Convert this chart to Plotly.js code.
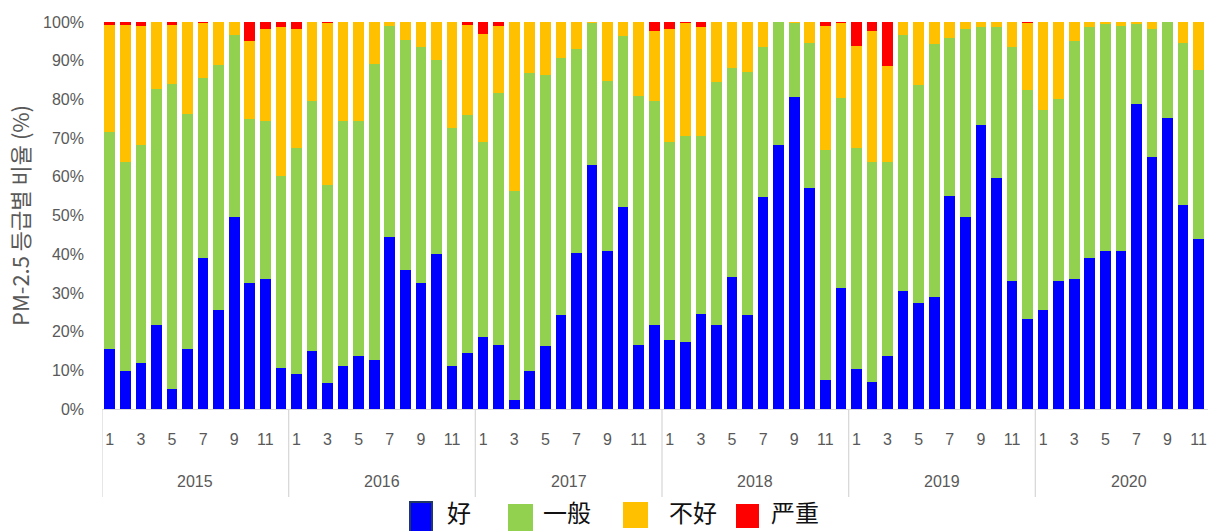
<!DOCTYPE html>
<html>
<head>
<meta charset="utf-8">
<script src="https://cdn.plot.ly/plotly-3.0.1.min.js"></script>
<style>
html,body{margin:0;padding:0;overflow:hidden;background:#fff;width:1208px;height:531px}
#chart{width:1230px;height:531px}
</style>
</head>
<body>
<div id="chart"></div>
<script>
// ---- data ----
const years = [2015, 2016, 2017, 2018, 2019, 2020];
const months = [1, 2, 3, 4, 5, 6, 7, 8, 9, 10, 11, 12];
const seriesNames = ['好', '一般', '不好', '严重'];
const seriesColors = ['#0000FF', '#92D050', '#FFC000', '#FF0000'];
const yTitle = 'PM-2.5 등급별 비율 (%)';

const good = [
  15.5, 9.9, 11.9, 21.8, 5.2, 15.5, 38.9, 25.7, 49.6, 32.5, 33.7, 10.7,
  9.1, 15.1, 6.7, 11.1, 13.8, 12.7, 44.4, 36.0, 32.5, 40.0, 11.1, 14.6,
  18.7, 16.6, 2.3, 9.8, 16.2, 24.2, 40.4, 63.0, 40.8, 52.3, 16.6, 21.8,
  17.9, 17.4, 24.5, 21.8, 34.0, 24.2, 54.7, 68.1, 80.5, 57.1, 7.5, 31.3,
  10.4, 7.1, 13.8, 30.5, 27.3, 28.9, 55.1, 49.6, 73.3, 59.8, 33.2, 23.3,
  25.7, 33.2, 33.7, 38.9, 40.8, 40.8, 78.8, 65.0, 75.3, 52.7, 44.0, 31.8
];
const moderate = [
  56.2, 53.9, 56.3, 61.0, 78.8, 60.7, 46.6, 63.1, 47.1, 42.4, 40.7, 49.5,
  58.3, 64.5, 51.2, 63.3, 60.6, 76.4, 54.6, 59.4, 61.0, 50.2, 61.4, 61.4,
  50.2, 65.0, 54.0, 76.9, 70.2, 66.5, 52.7, 36.7, 44.0, 44.0, 64.2, 57.8,
  51.0, 53.1, 46.0, 62.6, 54.0, 62.8, 38.8, 31.9, 19.2, 37.5, 59.4, 49.1,
  57.0, 56.6, 49.9, 66.2, 56.3, 65.4, 40.8, 48.7, 25.3, 38.8, 60.3, 59.1,
  51.6, 46.8, 61.3, 59.7, 58.7, 58.2, 20.7, 33.3, 24.7, 41.9, 43.7, 48.9
];
const bad = [
  27.6, 35.5, 30.8, 17.2, 15.3, 23.8, 14.3, 11.2, 3.3, 20.1, 23.8, 38.4,
  30.8, 20.4, 41.9, 25.6, 25.6, 10.9, 1.0, 4.6, 6.5, 9.8, 27.5, 23.3,
  28.1, 17.4, 43.7, 13.3, 13.6, 9.3, 6.9, 0.3, 15.2, 3.7, 19.2, 18.2,
  29.3, 29.3, 28.1, 15.6, 12.0, 13.0, 6.5, 0.0, 0.3, 5.4, 32.1, 19.4,
  26.5, 34.1, 25.0, 3.3, 16.4, 5.7, 4.1, 1.7, 1.4, 1.4, 6.5, 17.4,
  22.7, 20.0, 5.0, 1.4, 0.5, 1.0, 0.5, 1.7, 0.0, 5.4, 12.3, 19.3
];
const severe = [
  0.7, 0.7, 1.0, 0.0, 0.7, 0.0, 0.2, 0.0, 0.0, 5.0, 1.8, 1.4,
  1.8, 0.0, 0.2, 0.0, 0.0, 0.0, 0.0, 0.0, 0.0, 0.0, 0.0, 0.7,
  3.0, 1.0, 0.0, 0.0, 0.0, 0.0, 0.0, 0.0, 0.0, 0.0, 0.0, 2.2,
  1.8, 0.2, 1.4, 0.0, 0.0, 0.0, 0.0, 0.0, 0.0, 0.0, 1.0, 0.2,
  6.1, 2.2, 11.3, 0.0, 0.0, 0.0, 0.0, 0.0, 0.0, 0.0, 0.0, 0.2,
  0.0, 0.0, 0.0, 0.0, 0.0, 0.0, 0.0, 0.0, 0.0, 0.0, 0.0, 0.0
];

// ---- build ----
const categories = [];
years.forEach(y => months.forEach(m => categories.push(y + '年' + m + '月')));
const tickVals = [], tickText = [];
years.forEach(y => months.forEach(m => { if (m % 2 === 1) { tickVals.push(y + '年' + m + '月'); tickText.push(String(m)); } }));

const seriesValues = [good, moderate, bad, severe];
const traces = seriesValues.map((vals, i) => ({
  type: 'bar', x: categories, y: vals, name: seriesNames[i],
  marker: { color: seriesColors[i], line: { width: 0 } },
  showlegend: false, hoverinfo: 'x+y+name'
}));

// layout geometry (pixels)
const W = 1230, H = 531, L = 102, R = 8, T = 22, B = 122;
const PW = W - L - R, PH = H - T - B;
const px = x => (x - L) / PW;
const py = y => (T + PH - y) / PH;

const tickFont = { family: 'Liberation Sans, Arial, sans-serif', size: 16, color: '#595959' };

const shapes = [];
const annotations = [];
// year separators and year labels
years.forEach((y, i) => {
  shapes.push({ type: 'line', xref: 'x', yref: 'paper', x0: i * 12 - 0.5, x1: i * 12 - 0.5,
    y0: 0, y1: py(497), line: { color: '#d9d9d9', width: 1.3 } });
  annotations.push({ xref: 'x', yref: 'paper', x: i * 12 + 5.5, y: py(481.5), text: String(y),
    showarrow: false, xanchor: 'center', yanchor: 'middle', font: tickFont });
});
// manual legend
const legBoxes = [[410, 432, 502, 533], [508, 533, 504, 533], [623, 648, 502, 528], [736, 759, 504, 528]];
const legText = [445, 541, 667, 769];
seriesNames.forEach((n, i) => {
  const b = legBoxes[i];
  shapes.push({ type: 'rect', xref: 'paper', yref: 'paper', x0: px(b[0]), x1: px(b[1]), y0: py(b[2]), y1: py(b[3]),
    fillcolor: seriesColors[i], line: { color: i === 0 ? '#1F3864' : seriesColors[i], width: i === 0 ? 2 : 0 } });
  annotations.push({ xref: 'paper', yref: 'paper', x: px(legText[i]), y: py(512), text: n, showarrow: false,
    xanchor: 'left', yanchor: 'middle', font: { family: 'Noto Sans CJK SC', size: 24, color: '#111' } });
});

const layout = {
  width: W, height: H,
  margin: { l: L, r: R, t: T, b: B },
  paper_bgcolor: '#fff', plot_bgcolor: '#fff',
  barmode: 'stack', bargap: 0.31,
  font: tickFont,
  xaxis: {
    type: 'category', range: [-0.5, categories.length - 0.5],
    tickmode: 'array', tickvals: tickVals, ticktext: tickText, tickangle: 0,
    showgrid: false, zeroline: false, showline: true, linecolor: '#d9d9d9', linewidth: 1,
    ticks: '', ticklabelstandoff: 16, tickfont: tickFont, fixedrange: true
  },
  yaxis: {
    range: [0, 100], dtick: 10, tick0: 0, ticksuffix: '%',
    showgrid: false, zeroline: false, showline: false, ticks: '',
    ticklabelstandoff: 17, tickfont: tickFont, fixedrange: true,
    title: { text: yTitle, font: { family: 'Noto Sans CJK KR', size: 22, color: '#595959' }, standoff: 7 }
  },
  shapes: shapes,
  annotations: annotations
};

Plotly.newPlot('chart', traces, layout, { displayModeBar: false, staticPlot: true });
</script>
</body>
</html>
